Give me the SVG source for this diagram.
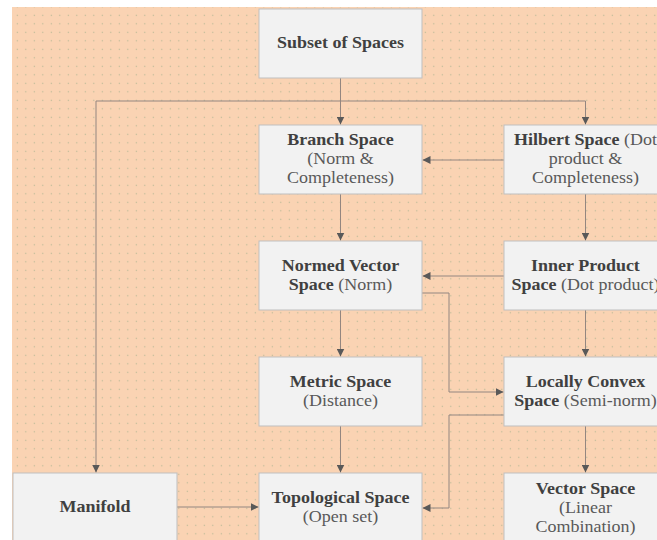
<svg xmlns="http://www.w3.org/2000/svg" width="657" height="540" viewBox="0 0 657 540">
  <defs>
    <pattern id="dots" patternUnits="userSpaceOnUse" x="13.05" y="11.05" width="8.5" height="8.5">
      <circle cx="4.25" cy="4.25" r="0.65" fill="#B3B693"/>
    </pattern>
    <marker id="arr" viewBox="0 0 10 10" refX="10" refY="5" markerWidth="8" markerHeight="8" markerUnits="userSpaceOnUse" orient="auto">
      <path d="M0,0 L10,5 L0,10 Z" fill="#595959"/>
    </marker>
    <style>
      .box { fill: #F2F2F2; stroke: #BFBFBF; stroke-width: 1; }
      .lbl { font-family: "Liberation Serif", "Times New Roman", serif; font-size: 16px; fill: #595959; text-anchor: middle; }
      .b { font-weight: bold; fill: #404040; }
      .conn path { fill: none; stroke: #938680; stroke-width: 1; marker-end: url(#arr); }
    </style>
  </defs>

  <rect x="0" y="0" width="657" height="540" fill="#FFFFFF"/>
  <rect x="12" y="7" width="645" height="533" fill="#FAD3B3"/>
  <rect x="12" y="7" width="645" height="533" fill="url(#dots)"/>

  <g class="conn" id="connectors">
    <path d="M340.5,78 V124.5"/>
    <path d="M340.5,101 H585.5 V124.5"/>
    <path d="M340.5,101 H96 V472.5"/>
    <path d="M504,160 H422.5"/>
    <path d="M340.5,194 V240.5"/>
    <path d="M585.5,194 V240.5"/>
    <path d="M504,276 H422.5"/>
    <path d="M340.5,310 V356.5"/>
    <path d="M585.5,310 V356.5"/>
    <path d="M422,293 H449 V392 H503.5"/>
    <path d="M504,415 H449 V508 H422.5"/>
    <path d="M340.5,426 V472.5"/>
    <path d="M585.5,426 V472.5"/>
    <path d="M177,507 H258.5"/>
  </g>

  <g id="subset">
    <rect class="box" x="259" y="9" width="163" height="69"/>
    <g transform="scale(1.125,1)"><text class="lbl b" x="302.67" y="48">Subset of Spaces</text></g>
  </g>

  <g id="branch">
    <rect class="box" x="259" y="125" width="163" height="69"/>
    <g transform="scale(1.125,1)">
      <text class="lbl b" x="302.67" y="145">Branch Space</text>
      <text class="lbl" x="302.67" y="164">(Norm &amp;</text>
      <text class="lbl" x="302.67" y="183">Completeness)</text>
    </g>
  </g>

  <g id="hilbert">
    <rect class="box" x="504" y="125" width="163" height="69"/>
    <g transform="scale(1.125,1)">
      <text class="lbl" x="520.44" y="145"><tspan class="b">Hilbert Space</tspan> (Dot</text>
      <text class="lbl" x="520.44" y="164">product &amp;</text>
      <text class="lbl" x="520.44" y="183">Completeness)</text>
    </g>
  </g>

  <g id="normed">
    <rect class="box" x="259" y="241" width="163" height="69"/>
    <g transform="scale(1.125,1)">
      <text class="lbl b" x="302.67" y="271">Normed Vector</text>
      <text class="lbl" x="302.67" y="290"><tspan class="b">Space</tspan> (Norm)</text>
    </g>
  </g>

  <g id="inner">
    <rect class="box" x="504" y="241" width="163" height="69"/>
    <g transform="scale(1.125,1)">
      <text class="lbl b" x="520.44" y="271">Inner Product</text>
      <text class="lbl" x="520.44" y="290"><tspan class="b">Space</tspan> (Dot product)</text>
    </g>
  </g>

  <g id="metric">
    <rect class="box" x="259" y="357" width="163" height="69"/>
    <g transform="scale(1.125,1)">
      <text class="lbl b" x="302.67" y="387">Metric Space</text>
      <text class="lbl" x="302.67" y="406">(Distance)</text>
    </g>
  </g>

  <g id="locally">
    <rect class="box" x="504" y="357" width="163" height="69"/>
    <g transform="scale(1.125,1)">
      <text class="lbl b" x="520.44" y="387">Locally Convex</text>
      <text class="lbl" x="520.44" y="406"><tspan class="b">Space</tspan> (Semi-norm)</text>
    </g>
  </g>

  <g id="manifold">
    <rect class="box" x="13" y="473" width="164" height="80"/>
    <g transform="scale(1.125,1)"><text class="lbl b" x="84.44" y="512">Manifold</text></g>
  </g>

  <g id="topological">
    <rect class="box" x="259" y="473" width="163" height="80"/>
    <g transform="scale(1.125,1)">
      <text class="lbl b" x="302.67" y="503">Topological Space</text>
      <text class="lbl" x="302.67" y="522">(Open set)</text>
    </g>
  </g>

  <g id="vector">
    <rect class="box" x="504" y="473" width="163" height="80"/>
    <g transform="scale(1.125,1)">
      <text class="lbl b" x="520.44" y="494">Vector Space</text>
      <text class="lbl" x="520.44" y="513">(Linear</text>
      <text class="lbl" x="520.44" y="532">Combination)</text>
    </g>
  </g>
</svg>
